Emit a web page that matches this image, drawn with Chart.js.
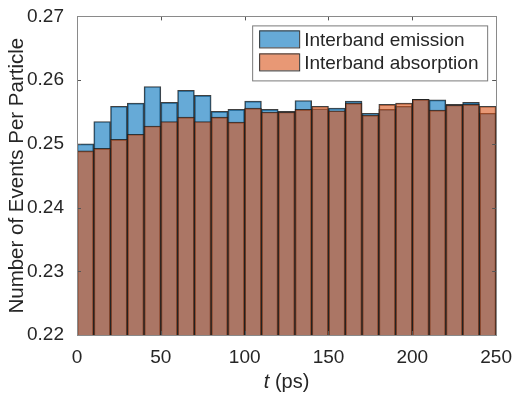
<!DOCTYPE html>
<html>
<head>
<meta charset="utf-8">
<script src="https://cdn.jsdelivr.net/npm/chart.js@4/dist/chart.umd.min.js"></script>
<style>
  html, body { margin: 0; padding: 0; background: #fff; }
  #wrap { width: 515px; height: 394px; }
</style>
</head>
<body>
<div id="wrap"><canvas id="hist"></canvas></div>
<script>
// bin centres (ps), bin width 10
const binCenters = [5, 15, 25, 35, 45, 55, 65, 75, 85, 95, 105, 115, 125,
                    135, 145, 155, 165, 175, 185, 195, 205, 215, 225, 235, 245];
const emission = [0.2500, 0.2535, 0.2559, 0.2564, 0.2590, 0.2565, 0.2584, 0.2576, 0.2551,
                  0.2554, 0.2567, 0.2554, 0.2551, 0.2568, 0.2555, 0.2556, 0.2567, 0.2548,
                  0.2554, 0.2559, 0.2570, 0.2569, 0.2562, 0.2565, 0.2548];
const absorption = [0.2489, 0.2493, 0.2507, 0.2515, 0.2528, 0.2535, 0.2542, 0.2535, 0.2542,
                    0.2534, 0.2556, 0.2550, 0.2550, 0.2554, 0.2559, 0.2552, 0.2564, 0.2545,
                    0.2562, 0.2564, 0.2570, 0.2553, 0.2561, 0.2562, 0.2559];
const xTicks = [0, 50, 100, 150, 200, 250];
const yTicks = [0.22, 0.23, 0.24, 0.25, 0.26, 0.27];

const FONT = "'Liberation Sans', Arial, Helvetica, sans-serif";
const INK = '#262626';

function toPoints(vals) {
    return binCenters.map((x, i) => ({ x: x, y: vals[i] }));
}

// box round the axes and inward ticks, like MATLAB's "box on"
const axesBox = {
    id: 'axesBox',
    afterDatasetsDraw(chart) {
        const { ctx, chartArea: a, scales } = chart;
        ctx.save();
        ctx.strokeStyle = '#555';
        ctx.lineWidth = 1;
        ctx.beginPath();
        yTicks.forEach(v => {
            const py = Math.round(scales.y.getPixelForValue(v)) + 0.5;
            ctx.moveTo(a.left, py); ctx.lineTo(a.left + 4, py);
            ctx.moveTo(a.right, py); ctx.lineTo(a.right - 4, py);
        });
        xTicks.forEach(v => {
            const px = Math.round(scales.x.getPixelForValue(v)) + 0.5;
            ctx.moveTo(px, a.bottom); ctx.lineTo(px, a.bottom - 4);
            ctx.moveTo(px, a.top); ctx.lineTo(px, a.top + 4);
        });
        ctx.stroke();
        ctx.strokeStyle = '#8a8a8a';
        ctx.strokeRect(Math.round(a.left) + 0.5, Math.round(a.top) + 0.5,
                       Math.round(a.right - a.left), Math.round(a.bottom - a.top));
        ctx.restore();
    }
};

// legend inside the axes (top right) and the x label with an italic t
const boxLegend = {
    id: 'boxLegend',
    afterDraw(chart) {
        const { ctx, chartArea: a } = chart;
        const w = 235, h = 55;
        const x0 = a.right - 9 - w, y0 = a.top + 9;
        ctx.save();
        ctx.fillStyle = '#fff';
        ctx.fillRect(x0, y0, w, h);
        ctx.strokeStyle = '#7a7a7a';
        ctx.lineWidth = 1;
        ctx.strokeRect(x0 + 0.5, y0 + 0.5, w, h);
        const items = [chart.data.datasets[1], chart.data.datasets[0]];
        ctx.font = '19px ' + FONT;
        ctx.textBaseline = 'middle';
        items.forEach((ds, i) => {
            const sy = y0 + 5 + i * 23;
            ctx.fillStyle = ds.backgroundColor;
            ctx.fillRect(x0 + 7, sy, 40, 17);
            ctx.strokeStyle = '#333';
            ctx.strokeRect(x0 + 7.5, sy + 0.5, 40, 17);
            ctx.fillStyle = INK;
            ctx.fillText(ds.label, x0 + 52, sy + 10);
        });

        // x axis label: "t (ps)"
        const cx = (a.left + a.right) / 2;
        const it = 'italic 20px ' + FONT, rm = '20px ' + FONT;
        ctx.font = it; const w1 = ctx.measureText('t').width;
        ctx.font = rm; const w2 = ctx.measureText(' (ps)').width;
        const sx = cx - (w1 + w2) / 2;
        ctx.textBaseline = 'alphabetic';
        ctx.fillStyle = INK;
        ctx.font = it; ctx.fillText('t', sx, 388);
        ctx.font = rm; ctx.fillText(' (ps)', sx + w1, 388);
        ctx.restore();
    }
};

const ctx = document.getElementById('hist').getContext('2d');
new Chart(ctx, {
    type: 'bar',
    data: {
        datasets: [
            {
                label: 'Interband absorption',
                data: toPoints(absorption),
                backgroundColor: 'rgba(217, 83, 25, 0.6)',
                borderColor: 'rgba(30, 30, 30, 0.85)',
                borderWidth: 1,
                order: 1
            },
            {
                label: 'Interband emission',
                data: toPoints(emission),
                backgroundColor: 'rgba(0, 114, 189, 0.6)',
                borderColor: 'rgba(30, 30, 30, 0.85)',
                borderWidth: 1,
                order: 2
            }
        ]
    },
    options: {
        responsive: true,
        maintainAspectRatio: false,
        animation: false,
        events: [],
        layout: { padding: { top: 15, right: 16, left: 0, bottom: 0 } },
        datasets: { bar: { grouped: false, barPercentage: 1, categoryPercentage: 1 } },
        plugins: { legend: { display: false }, tooltip: { enabled: false } },
        scales: {
            x: {
                type: 'linear',
                min: 0, max: 250,
                offset: false,
                afterBuildTicks: s => { s.ticks = xTicks.map(v => ({ value: v })); },
                afterFit: s => { s.height = 59; },
                grid: { display: false },
                border: { display: false },
                ticks: { color: INK, font: { family: FONT, size: 19 }, padding: 3, maxRotation: 0 }
            },
            y: {
                min: 0.22, max: 0.27,
                afterBuildTicks: s => { s.ticks = yTicks.map(v => ({ value: v })); },
                afterFit: s => { s.width = 77; },
                grid: { display: false },
                border: { display: false },
                ticks: {
                    color: INK, font: { family: FONT, size: 19 }, padding: 5,
                    callback: v => v.toFixed(2)
                },
                title: {
                    display: true,
                    text: 'Number of Events Per Particle',
                    color: INK,
                    font: { family: FONT, size: 20.5 },
                    padding: { top: 5, bottom: 0 }
                }
            }
        }
    },
    plugins: [axesBox, boxLegend]
});
</script>
</body>
</html>
